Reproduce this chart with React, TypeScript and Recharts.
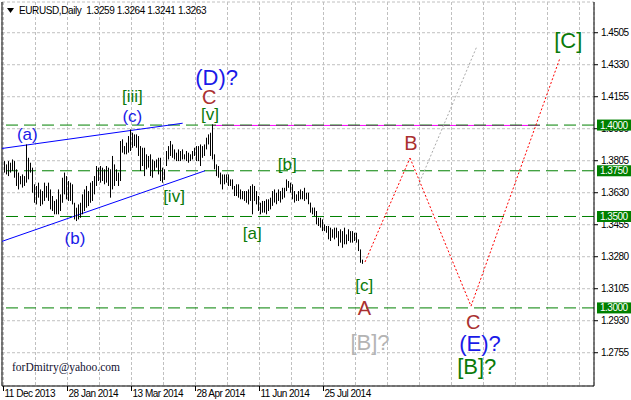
import React from "react";
import {
  ComposedChart,
  Scatter,
  ErrorBar,
  XAxis,
  YAxis,
  CartesianGrid,
  ReferenceLine,
  ReferenceDot,
} from "recharts";

// daily highs / lows, EURUSD, 11 Dec 2013 onwards
const highs = [
  1.3803, 1.3785, 1.3803, 1.3794, 1.3812, 1.3803, 1.3758, 1.374, 1.3721, 1.373, 1.3721, 1.3894, 1.3821, 1.3794, 1.3767,
  1.3676, 1.3667, 1.3685, 1.3648, 1.3639, 1.3685, 1.3667, 1.3685, 1.3648, 1.3612, 1.3585, 1.3594, 1.3648, 1.3621, 1.3712,
  1.374, 1.3721, 1.3694, 1.3685, 1.3676, 1.3575, 1.3548, 1.3566, 1.3575, 1.3621, 1.3648, 1.3667, 1.3639, 1.3685, 1.3694,
  1.3721, 1.3776, 1.3767, 1.3776, 1.3767, 1.3758, 1.3776, 1.3767, 1.3758, 1.3831, 1.3785, 1.3758, 1.374, 1.3913, 1.3922,
  1.3885, 1.3904, 1.394, 1.3976, 1.3958, 1.3949, 1.3949, 1.394, 1.3885, 1.3876, 1.3876, 1.384, 1.3831, 1.384, 1.3812,
  1.3803, 1.3812, 1.3821, 1.3821, 1.3767, 1.3758, 1.3858, 1.3885, 1.3913, 1.3894, 1.3867, 1.3849, 1.3867, 1.3858, 1.3867,
  1.384, 1.3858, 1.3849, 1.384, 1.3858, 1.3876, 1.3885, 1.3885, 1.3894, 1.3885, 1.3894, 1.3931, 1.3949, 1.3958, 1.4004,
  1.384, 1.3785, 1.3776, 1.374, 1.373, 1.373, 1.373, 1.373, 1.3703, 1.3703, 1.3667, 1.3676, 1.3676, 1.3648, 1.3639,
  1.3639, 1.3639, 1.3648, 1.3667, 1.3676, 1.3667, 1.3639, 1.3612, 1.3575, 1.3585, 1.3585, 1.3594, 1.3594, 1.3603, 1.3639,
  1.3648, 1.363, 1.3648, 1.3639, 1.3657, 1.3657, 1.3703, 1.3694, 1.3685, 1.3676, 1.3639, 1.3621, 1.3639, 1.3648, 1.3639,
  1.3657, 1.363, 1.363, 1.3576, 1.3549, 1.3549, 1.353, 1.3493, 1.3493, 1.3484, 1.3457, 1.3448, 1.3448, 1.3439, 1.343,
  1.3439, 1.3439, 1.342, 1.343, 1.342, 1.3439, 1.3402, 1.343, 1.342, 1.342, 1.3411, 1.3411, 1.3375, 1.332, 1.3264,
];

const lows = [
  1.374, 1.373, 1.3721, 1.374, 1.3749, 1.3712, 1.3667, 1.3648, 1.3676, 1.3658, 1.3667, 1.3685, 1.3703, 1.374, 1.363,
  1.3575, 1.3566, 1.3603, 1.3557, 1.3566, 1.3585, 1.3603, 1.3585, 1.3539, 1.353, 1.3512, 1.3512, 1.3512, 1.353, 1.3575,
  1.3621, 1.3594, 1.3585, 1.3585, 1.3566, 1.3484, 1.3475, 1.3484, 1.3493, 1.3512, 1.353, 1.3548, 1.3557, 1.3575, 1.3585,
  1.3621, 1.3667, 1.3694, 1.3685, 1.3694, 1.3676, 1.3685, 1.3667, 1.3603, 1.3648, 1.3667, 1.3694, 1.3667, 1.3694, 1.3849,
  1.384, 1.384, 1.3849, 1.3858, 1.3876, 1.3885, 1.3876, 1.3831, 1.3749, 1.3776, 1.3721, 1.3758, 1.3767, 1.3721, 1.3712,
  1.3749, 1.3767, 1.373, 1.3694, 1.3685, 1.37, 1.3776, 1.3812, 1.3831, 1.3821, 1.3812, 1.3803, 1.3803, 1.3803, 1.3812,
  1.3812, 1.3803, 1.3794, 1.3803, 1.3812, 1.3831, 1.3803, 1.3803, 1.3776, 1.3821, 1.3831, 1.3867, 1.3894, 1.3831, 1.3812,
  1.3758, 1.3721, 1.3712, 1.3676, 1.3648, 1.3676, 1.3685, 1.3667, 1.3667, 1.3648, 1.3612, 1.3612, 1.3603, 1.3594, 1.3594,
  1.3585, 1.3575, 1.3566, 1.3585, 1.3512, 1.3585, 1.3566, 1.353, 1.3512, 1.3521, 1.3521, 1.3512, 1.353, 1.3539, 1.3558,
  1.3576, 1.3567, 1.3585, 1.3576, 1.3594, 1.3603, 1.3639, 1.3657, 1.363, 1.3594, 1.3576, 1.3585, 1.3585, 1.3594, 1.3594,
  1.3585, 1.3594, 1.3567, 1.3521, 1.3512, 1.3503, 1.3457, 1.3448, 1.3439, 1.342, 1.342, 1.3411, 1.3375, 1.3366, 1.3384,
  1.3375, 1.3384, 1.3338, 1.3357, 1.3329, 1.3348, 1.3348, 1.3366, 1.3357, 1.3357, 1.3366, 1.3357, 1.3311, 1.3247, 1.3241,
];

const dateLabels = ["11 Dec 2013", "28 Jan 2014", "13 Mar 2014", "28 Apr 2014", "11 Jun 2014", "25 Jul 2014"];
const priceTicks = [1.2755, 1.293, 1.3105, 1.328, 1.3455, 1.363, 1.3805, 1.398, 1.4155, 1.433, 1.4505];
const levels = [1.4, 1.375, 1.35, 1.3];

// lines drawn on the chart, as (bar index, price)
const upperTrend = [{ i: -1.25, p: 1.3872 }, { i: 89.1, p: 1.401 }];
const lowerTrend = [{ i: -1.25, p: 1.3364 }, { i: 100.25, p: 1.375 }];
const magentaLine = [{ i: 104.25, p: 1.3998 }, { i: 267.75, p: 1.3998 }];
const redPath = [
  { i: 180.25, p: 1.3251 },
  { i: 202.75, p: 1.382 },
  { i: 233.25, p: 1.301 },
  { i: 277.75, p: 1.4367 },
];
const grayPath = [{ i: 206.75, p: 1.3667 }, { i: 236.25, p: 1.4432 }];

const waveLabels = [
  { text: "(a)", i: 11.4, p: 1.3946, kind: "blue" },
  { text: "(b)", i: 35.25, p: 1.3382, kind: "blue" },
  { text: "(c)", i: 63.9, p: 1.4049, kind: "blue" },
  { text: "[iii]", i: 63.9, p: 1.4155, kind: "green" },
  { text: "(D)?", i: 106.1, p: 1.4262, kind: "blueBig" },
  { text: "C", i: 102.4, p: 1.4155, kind: "red" },
  { text: "[v]", i: 102.75, p: 1.4059, kind: "green" },
  { text: "[iv]", i: 84.75, p: 1.3608, kind: "green" },
  { text: "[b]", i: 141.4, p: 1.3782, kind: "green" },
  { text: "[a]", i: 123.9, p: 1.3408, kind: "green" },
  { text: "[c]", i: 179.9, p: 1.312, kind: "green" },
  { text: "A", i: 179.9, p: 1.2998, kind: "red" },
  { text: "[B]?", i: 182.75, p: 1.281, kind: "gray" },
  { text: "B", i: 203.25, p: 1.39, kind: "red" },
  { text: "C", i: 234.4, p: 1.2922, kind: "red" },
  { text: "(E)?", i: 237.75, p: 1.2808, kind: "blueBig" },
  { text: "[B]?", i: 236.1, p: 1.2678, kind: "greenBig" },
  { text: "[C]", i: 281.9, p: 1.4465, kind: "greenBig" },
];

const LABEL_STYLE: Record<string, { fill: string; size: number }> = {
  blue: { fill: "#1a1ae8", size: 17 },
  blueBig: { fill: "#1a1ae8", size: 22 },
  green: { fill: "#0a7a0a", size: 17 },
  greenBig: { fill: "#0a7a0a", size: 22 },
  red: { fill: "#aa3030", size: 20 },
  gray: { fill: "#b4b4b4", size: 22 },
};

const FONT = "'Liberation Sans', Arial, sans-serif";
const Y_DOMAIN = [1.2573, 1.4673];
const bars = highs.map((h, idx) => ({ i: idx, low: lows[idx], err: [0, h - lows[idx]] }));
const gridTicks = Array.from({ length: 19 }, (_, k) => -0.5 + 16 * k);

// price labels; the ones sitting under a level tag are drawn together with that tag
// eslint-disable-next-line @typescript-eslint/no-explicit-any
function PriceTick(props: any) {
  const { x, y, payload } = props;
  return (
    <text x={x} y={y} dy={3.5} fontSize={10} fontFamily={FONT} letterSpacing={-0.5} fill="#000">
      {Number(payload.value).toFixed(4)}
    </text>
  );
}

// green price tags for the horizontal levels (second, mirrored axis so they sit on top)
// eslint-disable-next-line @typescript-eslint/no-explicit-any
function LevelTag(props: any) {
  const { x, y, payload } = props;
  return (
    <g>
      <rect x={x + 3} y={y - 5.5} width={34} height={11} fill="#008000" />
      <text x={x + 6} y={y + 3.5} fontSize={10} fontFamily={FONT} letterSpacing={-0.5} fill="#fff">
        {Number(payload.value).toFixed(4)}
      </text>
    </g>
  );
}

// eslint-disable-next-line @typescript-eslint/no-explicit-any
function DateTick(props: any) {
  const { x, y, payload } = props;
  const k = Math.round((payload.value + 0.5) / 16);
  if (k % 2 !== 0 || k / 2 >= dateLabels.length) return <g />;
  return (
    <g>
      <line x1={x} y1={y} x2={x} y2={y + 5} stroke="#000" />
      <text x={x + 1} y={y + 11} fontSize={10} fontFamily={FONT} letterSpacing={-0.5} fill="#000">
        {dateLabels[k / 2]}
      </text>
    </g>
  );
}

// eslint-disable-next-line @typescript-eslint/no-explicit-any
function WaveText(props: any) {
  const { viewBox, text, kind } = props;
  const st = LABEL_STYLE[kind];
  return (
    <text
      x={viewBox.x + viewBox.width / 2}
      y={viewBox.y + viewBox.height / 2}
      textAnchor="middle"
      dominantBaseline="central"
      fontSize={st.size}
      fontFamily={FONT}
      fill={st.fill}
    >
      {text}
    </text>
  );
}

function segments(path: { i: number; p: number }[]) {
  return path.slice(1).map((pt, k) => [
    { x: path[k].i, y: path[k].p },
    { x: pt.i, y: pt.p },
  ]);
}

export default function App() {
  return (
    <div style={{ position: "absolute", left: 0, top: 0, width: 631, height: 400, background: "#fff" }}>
      <ComposedChart width={631} height={400} margin={{ top: 2, right: 0, bottom: 0, left: 2 }}>
        <CartesianGrid stroke="#c0c0c0" strokeDasharray="3 2" />
        <XAxis
          dataKey="i"
          type="number"
          domain={[-1.25, 294.75]}
          allowDataOverflow
          ticks={gridTicks}
          interval={0}
          height={14}
          tickSize={0}
          tickMargin={0}
          tickLine={false}
          axisLine={{ stroke: "#000" }}
          tick={<DateTick />}
        />
        <YAxis
          dataKey="low"
          orientation="right"
          domain={Y_DOMAIN}
          allowDataOverflow
          ticks={priceTicks}
          interval={0}
          width={37}
          tickSize={4}
          tickMargin={3}
          axisLine={{ stroke: "#000" }}
          tickLine={{ stroke: "#000" }}
          tick={<PriceTick />}
        />
        <YAxis
          yAxisId="tags"
          type="number"
          orientation="right"
          mirror
          domain={Y_DOMAIN}
          allowDataOverflow
          ticks={levels}
          interval={0}
          width={37}
          tickSize={0}
          tickMargin={0}
          axisLine={false}
          tickLine={false}
          tick={<LevelTag />}
        />
        <ReferenceLine x={-1.25} stroke="#000" ifOverflow="visible" />
        <ReferenceLine segment={segments(magentaLine)[0]} stroke="#ff00ff" />
        {levels.map((lv) => (
          <ReferenceLine key={lv} y={lv} stroke="#008000" strokeDasharray="12 6" />
        ))}
        <ReferenceLine segment={segments(upperTrend)[0]} stroke="#0000ff" />
        <ReferenceLine segment={segments(lowerTrend)[0]} stroke="#0000ff" />
        {segments(grayPath).map((s, k) => (
          <ReferenceLine key={`g${k}`} segment={s} stroke="#aaaaaa" strokeDasharray="2 2" />
        ))}
        {segments(redPath).map((s, k) => (
          <ReferenceLine key={`r${k}`} segment={s} stroke="#ff0000" strokeDasharray="2 2" />
        ))}
        <Scatter data={bars} shape={() => <g />} isAnimationActive={false}>
          <ErrorBar dataKey="err" direction="y" width={0} stroke="#000" strokeWidth={1} isAnimationActive={false} />
        </Scatter>
        {waveLabels.map((w, k) => (
          <ReferenceDot
            key={`w${k}`}
            x={w.i}
            y={w.p}
            r={1}
            fill="none"
            stroke="none"
            label={<WaveText text={w.text} kind={w.kind} />}
          />
        ))}
      </ComposedChart>
      <div
        style={{
          position: "absolute",
          left: 7,
          top: 5,
          fontFamily: FONT,
          fontSize: 10,
          letterSpacing: -0.4,
          whiteSpace: "pre",
          lineHeight: "12px",
          color: "#000",
        }}
      >
        <svg width={7} height={5} style={{ marginRight: 5, verticalAlign: "1px" }}>
          <polygon points="0,0 7,0 3.5,5" fill="#000" />
        </svg>
        {"EURUSD,Daily  1.3259 1.3264 1.3241 1.3263"}
      </div>
      <div
        style={{
          position: "absolute",
          left: 12,
          top: 361,
          fontFamily: "'Liberation Serif', 'Times New Roman', serif",
          fontSize: 11.5,
          color: "#101030",
          whiteSpace: "pre",
        }}
      >
        forDmitry@yahoo.com
      </div>
    </div>
  );
}
